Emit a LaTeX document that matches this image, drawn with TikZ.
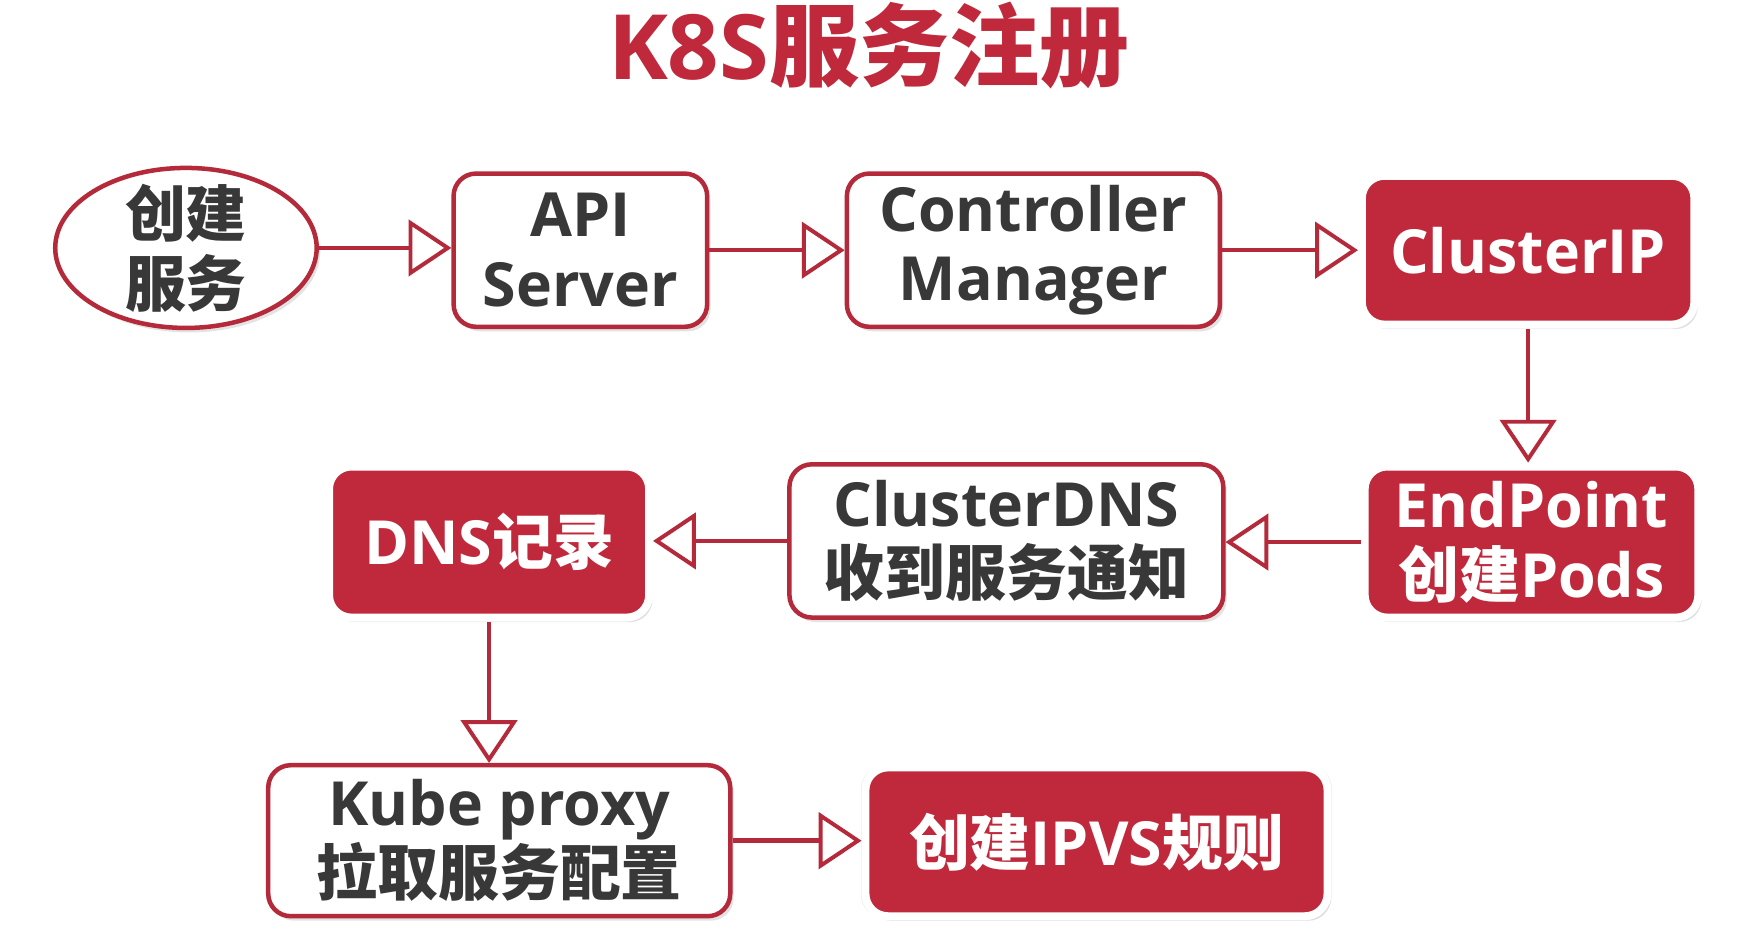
\documentclass[tikz,border=0pt]{standalone}
\usepackage{fontspec}
\setmainfont{Open Sans}
\newfontfamily\cjk{Noto Sans CJK SC}
\usetikzlibrary{shapes.geometric,arrows.meta,shadows}
\definecolor{kred}{HTML}{C0293B}
\definecolor{kline}{HTML}{B52A3A}
\definecolor{ktext}{HTML}{383838}
\begin{document}
\begin{tikzpicture}[x=1pt,y=-1pt,
  base/.style={align=center, inner sep=0pt, font=\fontsize{54}{62}\selectfont\bfseries},
  wbox/.style={base, rectangle, rounded corners=20pt, draw=kline, line width=4pt, fill=white, text=ktext,
    drop shadow={opacity=0.22, shadow xshift=3pt, shadow yshift=-4pt}},
  rbox/.style={base, rectangle, rounded corners=20pt, draw=white, line width=7pt, fill=kred, text=white,
    drop shadow={opacity=0.12, shadow scale=1.02, shadow xshift=0pt, shadow yshift=0pt},
    drop shadow={opacity=0.25, shadow xshift=3pt, shadow yshift=-4pt}},
  conn/.style={draw=kline, line width=4pt, -{Triangle[length=38pt, width=50pt, fill=white, line width=3.5pt]}}
]
\useasboundingbox (0,0) rectangle (1560,830.6);
\fill[white] (0,0) rectangle (1560,830.6);

\node[font=\fontsize{80}{80}\selectfont\bfseries, text=kred] (title) at (771,40) {K8S{\cjk 服务注册}};

\node[wbox, ellipse, minimum width=232pt, minimum height=142pt] (ell) at (165,220) {};
\node[base, text=ktext] (ellt) at (ell) {{\cjk 创建}\\{\cjk 服务}};
\node[wbox, minimum width=225pt, minimum height=136pt] (api) at (515,222) {API\\Server};
\node[wbox, minimum width=331pt, minimum height=136pt] (cm) at (917,222) {Controller\\Manager};
\node[rbox, minimum width=295pt, minimum height=132pt] (cip) at (1356,222) {ClusterIP};
\node[rbox, minimum width=296pt, minimum height=134pt] (ep) at (1359,481) {EndPoint\\{\cjk 创建}Pods};
\node[wbox, minimum width=385pt, minimum height=136pt] (cdns) at (893,480) {ClusterDNS\\{\cjk 收到服务通知}};
\node[rbox, minimum width=284pt, minimum height=134pt] (dns) at (434,481) {DNS{\cjk 记录}};
\node[wbox, minimum width=410pt, minimum height=134pt] (kp) at (443,746) {Kube proxy\\{\cjk 拉取服务配置}};
\node[rbox, minimum width=410pt, minimum height=132pt] (ipvs) at (973,747) {{\cjk 创建}IPVS{\cjk 规则}};

\draw[conn] (ell.east) -- (ell.east -| api.west);
\draw[conn] (api.east) -- (api.east -| cm.west);
\draw[conn] (cm.east) -- (cm.east -| cip.west);
\draw[conn] (cip.south) -- (cip.south |- ep.north);
\draw[conn] (ep.west) -- (ep.west -| cdns.east);
\draw[conn] (cdns.west) -- (cdns.west -| dns.east);
\draw[conn] (dns.south) -- (dns.south |- kp.north);
\draw[conn] (kp.east) -- (kp.east -| ipvs.west);
\end{tikzpicture}
\end{document}
